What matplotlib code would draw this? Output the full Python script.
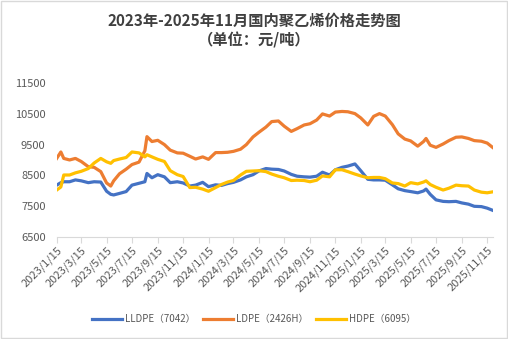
import pandas as pd
import matplotlib.pyplot as plt
from matplotlib.patches import Rectangle

plt.rcParams['font.family'] = ['Noto Sans CJK SC', 'DejaVu Sans']

dates = ["2023-01-15", "2023-01-25", "2023-02-01", "2023-02-15", "2023-03-01", "2023-03-15",
         "2023-04-01", "2023-04-15", "2023-05-01", "2023-05-15", "2023-05-25", "2023-06-01",
         "2023-06-15", "2023-07-01", "2023-07-15", "2023-08-01", "2023-08-15", "2023-08-20",
         "2023-09-01", "2023-09-15", "2023-10-01", "2023-10-15", "2023-11-01", "2023-11-15",
         "2023-12-01", "2023-12-15", "2024-01-01", "2024-01-15", "2024-02-01", "2024-02-15",
         "2024-03-01", "2024-03-15", "2024-04-01", "2024-04-15", "2024-05-01", "2024-05-15",
         "2024-06-01", "2024-06-15", "2024-07-01", "2024-07-15", "2024-08-01", "2024-08-15",
         "2024-09-01", "2024-09-15", "2024-10-01", "2024-10-15", "2024-11-01", "2024-11-15",
         "2024-12-01", "2024-12-15", "2025-01-01", "2025-01-15", "2025-02-01", "2025-02-15",
         "2025-03-01", "2025-03-15", "2025-04-01", "2025-04-15", "2025-05-01", "2025-05-15",
         "2025-06-01", "2025-06-15", "2025-06-21", "2025-07-01", "2025-07-15", "2025-08-01",
         "2025-08-15", "2025-09-01", "2025-09-15", "2025-10-01", "2025-10-15", "2025-11-01",
         "2025-11-15", "2025-11-28"]

lldpe = [8180, 8260, 8290, 8290, 8350, 8320,
         8260, 8290, 8280, 7980, 7880, 7860,
         7910, 7970, 8180, 8240, 8290, 8560,
         8420, 8520, 8450, 8260, 8290, 8250,
         8150, 8180, 8270, 8130, 8190, 8170,
         8230, 8270, 8350, 8450, 8520, 8640,
         8720, 8700, 8690, 8640, 8530, 8470,
         8450, 8440, 8470, 8600, 8510, 8680,
         8760, 8800, 8870, 8650, 8370, 8350,
         8350, 8340, 8190, 8060, 8000, 7970,
         7930, 7990, 8050, 7880, 7700, 7650,
         7640, 7650, 7600, 7560, 7490, 7480,
         7430, 7360]

ldpe = [9050, 9260, 9050, 9000, 9050, 8950,
        8780, 8760, 8620, 8250, 8150, 8320,
        8550, 8700, 8850, 8930, 9300, 9760,
        9600, 9640, 9500, 9320, 9230, 9220,
        9120, 9030, 9100, 9020, 9240, 9240,
        9250, 9280, 9350, 9500, 9750, 9900,
        10070, 10250, 10270, 10100, 9930, 10020,
        10140, 10180, 10300, 10500, 10430, 10560,
        10580, 10570, 10510, 10370, 10140, 10420,
        10510, 10430, 10150, 9850, 9680, 9620,
        9450, 9600, 9700, 9480, 9410, 9520,
        9630, 9740, 9750, 9700, 9630, 9610,
        9550, 9410]

hdpe = [8020, 8120, 8510, 8510, 8580, 8630,
        8720, 8900, 9050, 8940, 8890, 8980,
        9030, 9080, 9260, 9230, 9100, 9170,
        9100, 9020, 8950, 8650, 8520, 8460,
        8100, 8110, 8050, 7980, 8100, 8200,
        8280, 8330, 8510, 8630, 8640, 8650,
        8620, 8540, 8470, 8420, 8330, 8340,
        8330, 8290, 8340, 8480, 8450, 8680,
        8680, 8620, 8540, 8480, 8420, 8430,
        8430, 8390, 8250, 8230, 8150, 8260,
        8220, 8280, 8320, 8200, 8110, 8020,
        8080, 8180, 8160, 8150, 8020, 7950,
        7930, 7960]

x = pd.to_datetime(dates)

fig = plt.figure(figsize=(5.08, 3.39), dpi=100)
ax = fig.add_axes([0.1116, 0.3018, 0.8589, 0.498])

ax.plot(x, lldpe, color='#4472C4', lw=2.3, label='LLDPE（7042）')
ax.plot(x, ldpe, color='#ED7D31', lw=2.3, label='LDPE（2426H）')
ax.plot(x, hdpe, color='#FFC000', lw=2.3, label='HDPE（6095）')

ax.set_ylim(6500, 12000)
ax.set_yticks([6500, 7500, 8500, 9500, 10500, 11500])
ax.set_xlim(pd.Timestamp("2023-01-15"), pd.Timestamp("2025-11-29"))

ticks = pd.date_range("2023-01-01", "2025-11-01", freq="2MS") + pd.Timedelta(days=14)
ax.set_xticks(ticks)
ax.set_xticklabels([f"{t.year}/{t.month}/{t.day}" for t in ticks],
                   rotation=45, ha='right', rotation_mode='anchor')

for s in ['top', 'right', 'left']:
    ax.spines[s].set_visible(False)
ax.spines['bottom'].set_color('#D9D9D9')
ax.tick_params(axis='x', colors='#D9D9D9', length=4, labelcolor='#595959', labelsize=8, pad=2)
ax.tick_params(axis='y', length=0, labelcolor='#595959', labelsize=8, pad=8)

fig.text(0.5, 0.94, "2023年-2025年11月国内聚乙烯价格走势图", ha='center', va='center',
         fontsize=11, fontweight='bold', color='#404040')
fig.text(0.5, 0.88, "（单位：元/吨）", ha='center', va='center',
         fontsize=11, fontweight='bold', color='#404040')

fig.legend(loc='center', bbox_to_anchor=(0.5, 0.058), ncol=3, frameon=False,
           fontsize=7, handlelength=3.1, columnspacing=0.8, handletextpad=0.3,
           labelcolor='#595959')

fig.patches.append(Rectangle((0.001, 0.002), 0.997, 0.995, transform=fig.transFigure,
                             fill=False, edgecolor='#D9D9D9', lw=1))

fig.savefig("out.png", dpi=100)
